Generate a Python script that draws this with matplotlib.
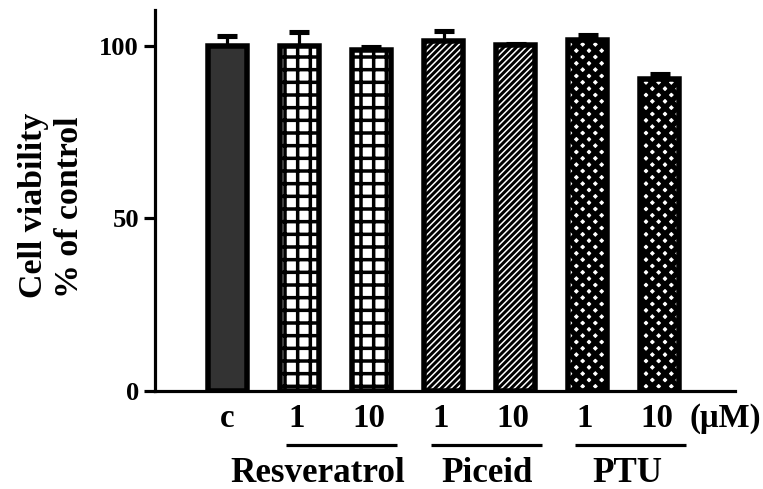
import matplotlib
matplotlib.use("Agg")
import matplotlib.pyplot as plt

# ---- data ----
conc_labels = ["c", "1", "10", "1", "10", "1", "10"]
viability = [100.0, 100.0, 98.8, 101.5, 100.2, 101.7, 90.3]
errors = [3.0, 4.0, 0.8, 2.8, 0.3, 1.5, 1.7]
hatches = [None, "+", "+", "////", "////", "xx", "xx"]
hatch_lws = [1.0, 3.3, 3.3, 2.8, 2.8, 5.0, 5.0]
face_colors = ["#333333", "white", "white", "white", "white", "white", "white"]
groups = ["Resveratrol", "Piceid", "PTU"]
group_spans = [(1, 2), (3, 4), (5, 6)]
group_label_x = [1.25, 3.6, 5.55]
yticks = [0, 50, 100]
unit_label = "(\u03bcM)"

DPI = 76.3
PX_PER_Y = 3.45  # pixels per data unit in y
plt.rcParams["font.family"] = ["Liberation Serif", "DejaVu Serif"]
plt.rcParams["font.weight"] = "bold"
plt.rcParams["hatch.color"] = "black"

fig = plt.figure(figsize=(763 / DPI, 489 / DPI), dpi=DPI)
ax = fig.add_axes([155 / 763, 1 - 391 / 489, (735 - 155) / 763, (391 - 10) / 489])

x = list(range(len(viability)))
ax.errorbar(x, viability, yerr=[[0] * len(errors), errors], fmt="none",
            ecolor="black", elinewidth=3, capsize=9, capthick=4.8, zorder=1)
for xi, v, fc, h, hl in zip(x, viability, face_colors, hatches, hatch_lws):
    plt.rcParams["hatch.linewidth"] = hl
    bc = ax.bar([xi], [v], width=0.54, color=fc, edgecolor="black",
                linewidth=5.2, zorder=2)
    b = bc[0]
    if h:
        b.set_hatch(h)
        try:
            b.set_hatch_linewidth(hl)
        except Exception:
            pass

ax.set_xlim(-1.0, 7.04)
ax.set_ylim(0, 110.4)
ax.set_yticks(yticks)
ax.set_yticklabels([str(t) for t in yticks], fontsize=25, fontweight="bold")
ax.tick_params(axis="y", length=10, width=3, pad=5)
ax.tick_params(axis="x", length=0, labelbottom=False)
for s in ["top", "right"]:
    ax.spines[s].set_visible(False)
for s in ["left", "bottom"]:
    ax.spines[s].set_linewidth(3)


def ypx(py):
    return (391 - py) / PX_PER_Y


# concentration labels
for xi, lab in zip(x, conc_labels):
    ax.text(xi - (0 if lab == "c" else 0.04), ypx(427), lab, ha="center",
            va="baseline", fontsize=31, fontweight="bold", clip_on=False)
ax.text(6.91, ypx(427), unit_label, ha="center", va="baseline", fontsize=31,
        fontweight="bold", clip_on=False)

# group lines and labels
for g, (a, b), gx in zip(groups, group_spans, group_label_x):
    ax.plot([a - 0.18, b + 0.36], [ypx(445), ypx(445)], color="black", lw=3,
            clip_on=False, solid_capstyle="butt")
    ax.text(gx, ypx(482), g, ha="center", va="baseline", fontsize=33,
            fontweight="bold", clip_on=False)

# y label (two lines)
fig.text(42 / 763, 1 - 205 / 489, "Cell viability", rotation=90,
         rotation_mode="anchor", ha="center", va="baseline",
         fontsize=32, fontweight="bold")
fig.text(78 / 763, 1 - 207 / 489, "% of control", rotation=90,
         rotation_mode="anchor", ha="center", va="baseline",
         fontsize=32, fontweight="bold")

fig.savefig("out.png", dpi=DPI)
